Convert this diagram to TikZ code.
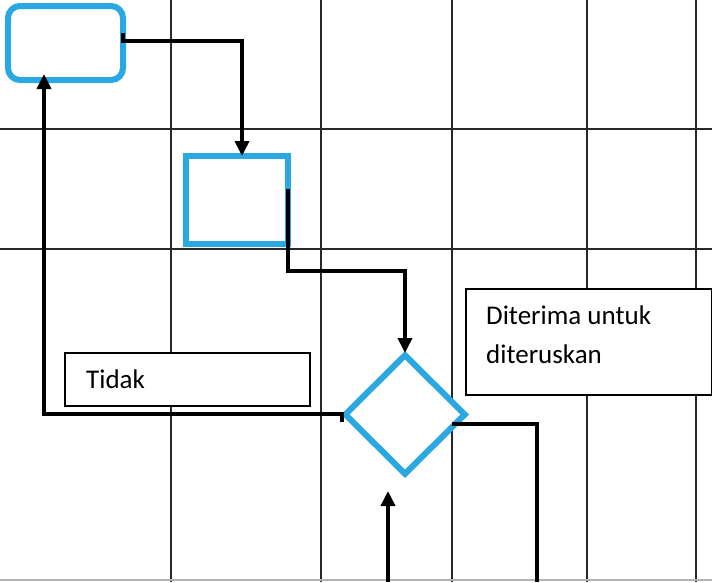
\documentclass[tikz,border=0pt]{standalone}
\usepackage{fontspec}
\setmainfont{Carlito}
\usetikzlibrary{arrows.meta,shapes.geometric}
\definecolor{flowblue}{RGB}{41,168,226}
\definecolor{gridc}{RGB}{40,40,40}
\tikzset{
  gridline/.style={draw=gridc,line width=1.1pt},
  bluebox/.style={draw=flowblue,line width=6pt,fill=white,inner sep=0pt},
  labelbox/.style={draw=black,line width=2pt,fill=white,inner sep=0pt},
  conn/.style={draw=black,line width=3.6pt,line cap=butt,line join=miter},
  arr/.style={conn,-{Triangle[length=15pt,width=14pt]}},
  lbl/.style={font=\fontsize{27}{39}\selectfont,inner sep=0pt,align=left}
}
\begin{document}
\begin{tikzpicture}[x=1pt,y=-1pt]
\useasboundingbox (0,0) rectangle (712,582);
\fill[white] (0,0) rectangle (712,582);
% grid
\foreach \gx in {171,321,452,587,696} \draw[gridline] (\gx,0) -- (\gx,582);
\foreach \gy in {129,249} \draw[gridline] (0,\gy) -- (712,\gy);
\draw[draw=gray!60,line width=1.5pt] (0,580) -- (712,580);
% shapes
\node[bluebox,rounded corners=12pt,minimum width=115pt,minimum height=74pt] (start) at (65.5,43) {};
\node[bluebox,minimum width=102pt,minimum height=88pt] (proc) at (237,200) {};
\node[bluebox,diamond,minimum width=122pt,minimum height=121pt] (dec) at (405,414.5) {};
\node[labelbox,minimum width=245pt,minimum height=53pt] (tidak) at (187.5,379) {};
\node[lbl,anchor=base west] (tidakt) at (86,388) {Tidak};
\node[labelbox,minimum width=246pt,minimum height=106pt] (terima) at (589,341.5) {};
\node[lbl,anchor=base west] (terimat) at (486,363) {Diterima untuk\\diteruskan};
% coordinates
\coordinate (s1) at (123,33);
\coordinate (p1) at (288,189);
\coordinate (d1) at (342,422);
\coordinate (o1) at (452,424);
\coordinate (o2) at (537,582);
\coordinate (in1) at (388,582);
% connectors
\draw[arr] (s1) -- (123,41) -| ([xshift=5pt,yshift=-3pt]proc.north);
\draw[arr] (p1) -- (288,271) -| ([yshift=-2pt]dec.north);
\draw[arr] (d1) -- (342,414) -| ([xshift=-21.5pt,yshift=9pt]start.south);
\draw[conn] (o1) -| (o2);
\draw[arr] (in1) -- ++(0,-91);
\end{tikzpicture}
\end{document}
